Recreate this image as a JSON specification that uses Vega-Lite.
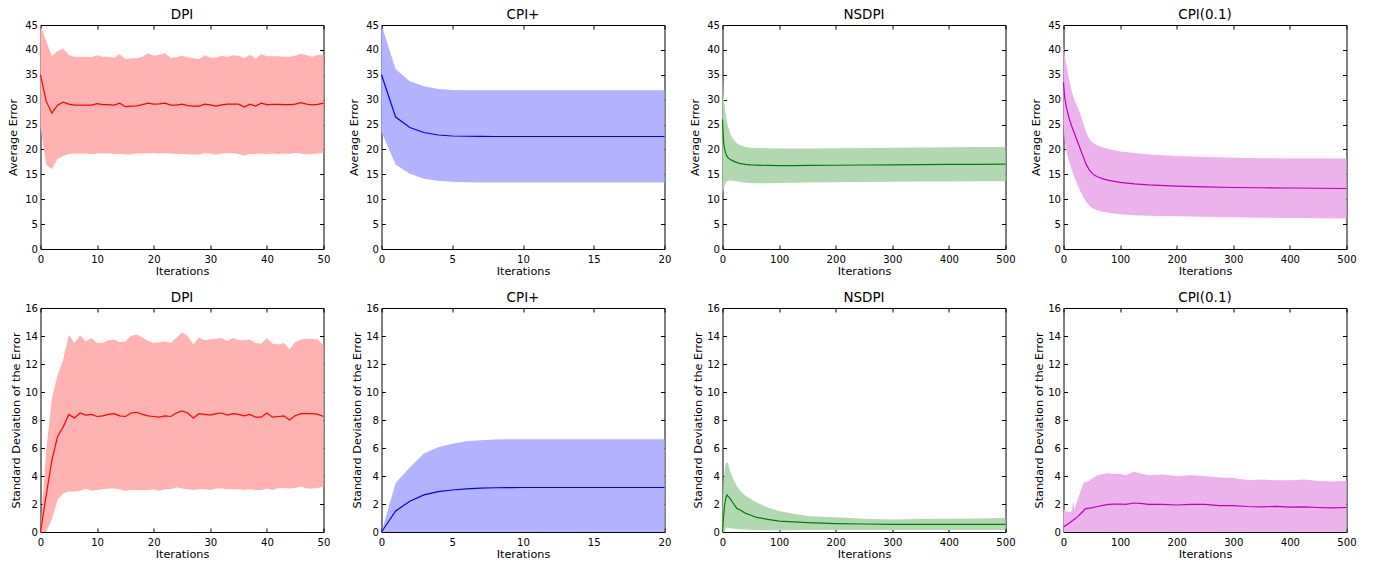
{
  "$schema": "https://vega.github.io/schema/vega-lite/v6.json",
  "padding": {"left": 6.5, "top": 7, "right": 5, "bottom": 3},
  "background": "white",
  "datasets": {
    "dpi_avg": [
      {"x":0,"m":35,"lo":24.5,"hi":45},{"x":1,"m":29.7,"lo":17,"hi":41.8},{"x":2,"m":27.3,"lo":16,"hi":38.7},{"x":3,"m":28.9,"lo":18.1,"hi":39.8},{"x":4,"m":29.5,"lo":18.7,"hi":40.3},{"x":5,"m":29.1,"lo":19.1,"hi":38.9},{"x":6,"m":28.9,"lo":19.2,"hi":38.6},{"x":7,"m":28.9,"lo":19.15,"hi":38.6},{"x":8,"m":28.9,"lo":19.2,"hi":38.55},{"x":9,"m":28.9,"lo":19.1,"hi":38.5},{"x":10,"m":29.2,"lo":19.2,"hi":38.9},{"x":11,"m":29,"lo":19.25,"hi":38.6},{"x":12,"m":29,"lo":19.2,"hi":38.6},{"x":13,"m":28.9,"lo":19.15,"hi":38.4},{"x":14,"m":29.3,"lo":19.1,"hi":39.1},{"x":15,"m":28.6,"lo":19.0,"hi":38.1},{"x":16,"m":28.7,"lo":19.05,"hi":38.3},{"x":17,"m":28.75,"lo":19.2,"hi":38.3},{"x":18,"m":29,"lo":19.25,"hi":38.6},{"x":19,"m":29.3,"lo":19.2,"hi":39.3},{"x":20,"m":29.1,"lo":19.3,"hi":38.8},{"x":21,"m":29.15,"lo":19.2,"hi":39.0},{"x":22,"m":29.3,"lo":19.25,"hi":39.3},{"x":23,"m":28.9,"lo":19.2,"hi":38.4},{"x":24,"m":28.9,"lo":19.1,"hi":38.5},{"x":25,"m":29.1,"lo":19.15,"hi":38.8},{"x":26,"m":28.8,"lo":19.05,"hi":38.5},{"x":27,"m":28.7,"lo":19.0,"hi":38.3},{"x":28,"m":28.7,"lo":19.0,"hi":38.1},{"x":29,"m":29.1,"lo":19.25,"hi":38.9},{"x":30,"m":28.95,"lo":19.2,"hi":38.4},{"x":31,"m":28.7,"lo":19.0,"hi":38.4},{"x":32,"m":28.95,"lo":19.2,"hi":38.8},{"x":33,"m":29.1,"lo":19.3,"hi":38.6},{"x":34,"m":29.1,"lo":19.25,"hi":38.9},{"x":35,"m":29.1,"lo":19.1,"hi":38.8},{"x":36,"m":28.5,"lo":18.8,"hi":38.3},{"x":37,"m":29.1,"lo":19.1,"hi":39.0},{"x":38,"m":28.7,"lo":19.1,"hi":38.2},{"x":39,"m":29.3,"lo":19.2,"hi":39.1},{"x":40,"m":29.0,"lo":19.1,"hi":38.7},{"x":41,"m":29.05,"lo":19.2,"hi":38.7},{"x":42,"m":29.05,"lo":19.1,"hi":38.7},{"x":43,"m":29.0,"lo":19.2,"hi":38.6},{"x":44,"m":29.0,"lo":19.15,"hi":38.6},{"x":45,"m":29.1,"lo":19.3,"hi":38.8},{"x":46,"m":29.4,"lo":19.2,"hi":39.2},{"x":47,"m":29.1,"lo":19.0,"hi":38.9},{"x":48,"m":28.95,"lo":19.1,"hi":38.6},{"x":49,"m":29.05,"lo":19.2,"hi":39.0},{"x":50,"m":29.3,"lo":19.3,"hi":39.0}
    ],
    "cpi_avg": [
      {"x":0,"m":35,"lo":23.5,"hi":45},{"x":1,"m":26.5,"lo":17,"hi":36.1},{"x":2,"m":24.4,"lo":15.1,"hi":33.7},{"x":3,"m":23.4,"lo":14.1,"hi":32.7},{"x":4,"m":22.9,"lo":13.7,"hi":32.15},{"x":5,"m":22.7,"lo":13.5,"hi":31.95},{"x":6,"m":22.65,"lo":13.4,"hi":31.9},{"x":7,"m":22.62,"lo":13.38,"hi":31.88},{"x":8,"m":22.6,"lo":13.36,"hi":31.87},{"x":9,"m":22.6,"lo":13.35,"hi":31.87},{"x":10,"m":22.6,"lo":13.35,"hi":31.87},{"x":11,"m":22.6,"lo":13.35,"hi":31.87},{"x":12,"m":22.6,"lo":13.35,"hi":31.87},{"x":13,"m":22.6,"lo":13.35,"hi":31.87},{"x":14,"m":22.6,"lo":13.35,"hi":31.87},{"x":15,"m":22.6,"lo":13.35,"hi":31.87},{"x":16,"m":22.6,"lo":13.35,"hi":31.87},{"x":17,"m":22.6,"lo":13.35,"hi":31.87},{"x":18,"m":22.6,"lo":13.35,"hi":31.87},{"x":19,"m":22.6,"lo":13.35,"hi":31.87},{"x":20,"m":22.6,"lo":13.35,"hi":31.87}
    ],
    "nsdpi_avg": [
      {"x":0,"m":26,"lo":11,"hi":35},{"x":1,"m":23.5,"lo":11.5,"hi":33},{"x":2,"m":21.5,"lo":12,"hi":31},{"x":3,"m":20.5,"lo":12.5,"hi":29.5},{"x":5,"m":19.5,"lo":13.0,"hi":27.5},{"x":7,"m":18.8,"lo":13.5,"hi":26},{"x":10,"m":18.3,"lo":13.7,"hi":24.5},{"x":15,"m":17.9,"lo":13.75,"hi":22.8},{"x":20,"m":17.6,"lo":13.7,"hi":21.9},{"x":25,"m":17.4,"lo":13.6,"hi":21.3},{"x":30,"m":17.2,"lo":13.5,"hi":20.9},{"x":40,"m":17.0,"lo":13.3,"hi":20.5},{"x":50,"m":16.9,"lo":13.25,"hi":20.35},{"x":60,"m":16.85,"lo":13.2,"hi":20.3},{"x":80,"m":16.8,"lo":13.2,"hi":20.25},{"x":100,"m":16.75,"lo":13.25,"hi":20.2},{"x":125,"m":16.75,"lo":13.3,"hi":20.2},{"x":150,"m":16.78,"lo":13.35,"hi":20.2},{"x":200,"m":16.82,"lo":13.4,"hi":20.25},{"x":250,"m":16.87,"lo":13.45,"hi":20.3},{"x":300,"m":16.92,"lo":13.5,"hi":20.35},{"x":350,"m":16.96,"lo":13.55,"hi":20.4},{"x":400,"m":17.0,"lo":13.55,"hi":20.45},{"x":450,"m":17.02,"lo":13.6,"hi":20.5},{"x":500,"m":17.05,"lo":13.6,"hi":20.5}
    ],
    "cpi01_avg": [
      {"x":0,"m":33.5,"lo":25,"hi":41},{"x":2,"m":30.5,"lo":22,"hi":39},{"x":5,"m":28.5,"lo":19.5,"hi":37},{"x":10,"m":26.2,"lo":17.5,"hi":34},{"x":15,"m":24.5,"lo":15.8,"hi":31.5},{"x":20,"m":23,"lo":14.2,"hi":29.7},{"x":25,"m":21.5,"lo":12.8,"hi":28.5},{"x":30,"m":20,"lo":11.5,"hi":27},{"x":35,"m":18.5,"lo":10.4,"hi":25.2},{"x":40,"m":17,"lo":9.5,"hi":23.5},{"x":45,"m":16,"lo":8.8,"hi":22.3},{"x":50,"m":15.3,"lo":8.3,"hi":21.5},{"x":55,"m":14.8,"lo":8.0,"hi":21.1},{"x":60,"m":14.5,"lo":7.8,"hi":20.8},{"x":70,"m":14.1,"lo":7.5,"hi":20.4},{"x":80,"m":13.8,"lo":7.3,"hi":20.1},{"x":100,"m":13.4,"lo":7.0,"hi":19.6},{"x":125,"m":13.1,"lo":6.8,"hi":19.3},{"x":150,"m":12.9,"lo":6.7,"hi":19.0},{"x":200,"m":12.65,"lo":6.6,"hi":18.7},{"x":250,"m":12.5,"lo":6.5,"hi":18.5},{"x":300,"m":12.35,"lo":6.4,"hi":18.35},{"x":350,"m":12.3,"lo":6.3,"hi":18.25},{"x":400,"m":12.25,"lo":6.25,"hi":18.2},{"x":450,"m":12.2,"lo":6.2,"hi":18.2},{"x":500,"m":12.15,"lo":6.15,"hi":18.2}
    ],
    "dpi_std": [
      {"x":0,"m":0,"lo":0,"hi":0},{"x":1,"m":2.6,"lo":0,"hi":5.8},{"x":2,"m":5.1,"lo":0.9,"hi":9.5},{"x":3,"m":6.8,"lo":2.3,"hi":11.2},{"x":4,"m":7.5,"lo":2.75,"hi":12.3},{"x":5,"m":8.4,"lo":2.9,"hi":14.05},{"x":6,"m":8.15,"lo":2.9,"hi":13.5},{"x":7,"m":8.5,"lo":2.95,"hi":14.05},{"x":8,"m":8.35,"lo":3.1,"hi":13.6},{"x":9,"m":8.4,"lo":2.95,"hi":13.85},{"x":10,"m":8.25,"lo":3.0,"hi":13.5},{"x":11,"m":8.3,"lo":3.05,"hi":13.5},{"x":12,"m":8.4,"lo":3.1,"hi":13.7},{"x":13,"m":8.45,"lo":3.1,"hi":13.75},{"x":14,"m":8.3,"lo":3.05,"hi":13.55},{"x":15,"m":8.25,"lo":2.95,"hi":13.6},{"x":16,"m":8.5,"lo":3.0,"hi":14.0},{"x":17,"m":8.55,"lo":3.0,"hi":14.1},{"x":18,"m":8.4,"lo":3.0,"hi":13.9},{"x":19,"m":8.3,"lo":3.0,"hi":13.65},{"x":20,"m":8.25,"lo":3.05,"hi":13.5},{"x":21,"m":8.2,"lo":2.95,"hi":13.55},{"x":22,"m":8.3,"lo":3.05,"hi":13.6},{"x":23,"m":8.25,"lo":3.05,"hi":13.5},{"x":24,"m":8.5,"lo":3.2,"hi":13.85},{"x":25,"m":8.65,"lo":3.1,"hi":14.25},{"x":26,"m":8.5,"lo":3.05,"hi":14.0},{"x":27,"m":8.15,"lo":3.0,"hi":13.4},{"x":28,"m":8.45,"lo":3.05,"hi":13.9},{"x":29,"m":8.4,"lo":3.05,"hi":13.7},{"x":30,"m":8.35,"lo":3.0,"hi":13.75},{"x":31,"m":8.45,"lo":3.1,"hi":13.8},{"x":32,"m":8.5,"lo":3.1,"hi":13.85},{"x":33,"m":8.35,"lo":3.05,"hi":13.65},{"x":34,"m":8.45,"lo":3.05,"hi":13.85},{"x":35,"m":8.4,"lo":3.05,"hi":13.7},{"x":36,"m":8.3,"lo":3.0,"hi":13.7},{"x":37,"m":8.4,"lo":3.05,"hi":13.75},{"x":38,"m":8.2,"lo":3.0,"hi":13.5},{"x":39,"m":8.2,"lo":3.0,"hi":13.45},{"x":40,"m":8.5,"lo":3.1,"hi":13.85},{"x":41,"m":8.2,"lo":3.0,"hi":13.45},{"x":42,"m":8.25,"lo":3.15,"hi":13.4},{"x":43,"m":8.3,"lo":3.15,"hi":13.5},{"x":44,"m":8.0,"lo":3.1,"hi":13.05},{"x":45,"m":8.3,"lo":3.15,"hi":13.55},{"x":46,"m":8.45,"lo":3.25,"hi":13.75},{"x":47,"m":8.45,"lo":3.1,"hi":13.8},{"x":48,"m":8.45,"lo":3.1,"hi":13.8},{"x":49,"m":8.4,"lo":3.15,"hi":13.75},{"x":50,"m":8.25,"lo":3.25,"hi":13.3}
    ],
    "cpi_std": [
      {"x":0,"m":0,"lo":0,"hi":0},{"x":1,"m":1.5,"lo":0,"hi":3.5},{"x":2,"m":2.2,"lo":0,"hi":4.6},{"x":3,"m":2.65,"lo":0,"hi":5.6},{"x":4,"m":2.88,"lo":0,"hi":6.05},{"x":5,"m":3.0,"lo":0,"hi":6.3},{"x":6,"m":3.08,"lo":0,"hi":6.48},{"x":7,"m":3.13,"lo":0,"hi":6.55},{"x":8,"m":3.16,"lo":0,"hi":6.6},{"x":9,"m":3.17,"lo":0,"hi":6.62},{"x":10,"m":3.18,"lo":0,"hi":6.63},{"x":11,"m":3.18,"lo":0,"hi":6.63},{"x":12,"m":3.18,"lo":0,"hi":6.63},{"x":13,"m":3.18,"lo":0,"hi":6.63},{"x":14,"m":3.18,"lo":0,"hi":6.63},{"x":15,"m":3.18,"lo":0,"hi":6.63},{"x":16,"m":3.18,"lo":0,"hi":6.63},{"x":17,"m":3.18,"lo":0,"hi":6.63},{"x":18,"m":3.18,"lo":0,"hi":6.63},{"x":19,"m":3.18,"lo":0,"hi":6.63},{"x":20,"m":3.18,"lo":0,"hi":6.63}
    ],
    "nsdpi_std": [
      {"x":0,"m":0,"lo":0,"hi":0.3},{"x":1,"m":0.6,"lo":0,"hi":2.5},{"x":2,"m":1.2,"lo":0,"hi":3.5},{"x":4,"m":2.0,"lo":0,"hi":4.5},{"x":6,"m":2.45,"lo":0.3,"hi":4.95},{"x":8,"m":2.65,"lo":0.32,"hi":4.97},{"x":10,"m":2.55,"lo":0.3,"hi":4.9},{"x":12,"m":2.45,"lo":0.28,"hi":4.5},{"x":15,"m":2.3,"lo":0.25,"hi":4.2},{"x":20,"m":2.0,"lo":0.25,"hi":3.7},{"x":25,"m":1.7,"lo":0.22,"hi":3.3},{"x":30,"m":1.6,"lo":0.2,"hi":3.0},{"x":40,"m":1.35,"lo":0.18,"hi":2.6},{"x":50,"m":1.2,"lo":0.15,"hi":2.35},{"x":60,"m":1.05,"lo":0.13,"hi":2.1},{"x":80,"m":0.9,"lo":0.12,"hi":1.75},{"x":100,"m":0.78,"lo":0.1,"hi":1.5},{"x":125,"m":0.72,"lo":0.12,"hi":1.3},{"x":150,"m":0.67,"lo":0.14,"hi":1.15},{"x":200,"m":0.6,"lo":0.15,"hi":1.05},{"x":250,"m":0.57,"lo":0.15,"hi":0.95},{"x":300,"m":0.55,"lo":0.15,"hi":0.9},{"x":350,"m":0.55,"lo":0.15,"hi":0.92},{"x":400,"m":0.55,"lo":0.15,"hi":0.95},{"x":450,"m":0.55,"lo":0.15,"hi":0.97},{"x":500,"m":0.55,"lo":0.15,"hi":1.0}
    ],
    "cpi01_std": [
      {"x":0,"m":0.35,"lo":0,"hi":1.6},{"x":5,"m":0.5,"lo":0,"hi":1.5},{"x":10,"m":0.62,"lo":0,"hi":1.4},{"x":15,"m":0.78,"lo":0,"hi":1.5},{"x":17,"m":0.85,"lo":0,"hi":2.25},{"x":19,"m":0.9,"lo":0,"hi":1.6},{"x":25,"m":1.1,"lo":0,"hi":2.3},{"x":30,"m":1.3,"lo":0,"hi":2.9},{"x":35,"m":1.5,"lo":0,"hi":3.5},{"x":38,"m":1.65,"lo":0,"hi":3.55},{"x":45,"m":1.7,"lo":0,"hi":3.65},{"x":50,"m":1.72,"lo":0,"hi":3.8},{"x":60,"m":1.82,"lo":0,"hi":4.05},{"x":70,"m":1.9,"lo":0,"hi":4.15},{"x":80,"m":1.97,"lo":0,"hi":4.2},{"x":90,"m":1.99,"lo":0,"hi":4.15},{"x":100,"m":2.0,"lo":0,"hi":4.15},{"x":110,"m":1.97,"lo":0,"hi":4.05},{"x":125,"m":2.07,"lo":0,"hi":4.3},{"x":140,"m":2.02,"lo":0,"hi":4.15},{"x":150,"m":1.98,"lo":0,"hi":4.05},{"x":175,"m":1.97,"lo":0,"hi":4.1},{"x":200,"m":1.93,"lo":0,"hi":4.0},{"x":225,"m":1.98,"lo":0,"hi":4.05},{"x":250,"m":1.97,"lo":0,"hi":4.0},{"x":275,"m":1.88,"lo":0,"hi":3.9},{"x":300,"m":1.88,"lo":0,"hi":3.85},{"x":325,"m":1.82,"lo":0,"hi":3.7},{"x":350,"m":1.8,"lo":0,"hi":3.75},{"x":375,"m":1.83,"lo":0,"hi":3.7},{"x":400,"m":1.78,"lo":0,"hi":3.7},{"x":425,"m":1.8,"lo":0,"hi":3.75},{"x":450,"m":1.75,"lo":0,"hi":3.65},{"x":475,"m":1.72,"lo":0,"hi":3.6},{"x":500,"m":1.75,"lo":0,"hi":3.65}
    ]
  },
  "columns": 4,
  "bounds": "flush",
  "spacing": {"row": 59, "column": 58},
  "concat": [
    {"title": "DPI", "width": 283, "height": 224, "data": {"name": "dpi_avg"},
     "layer": [
      {"mark": {"type": "area", "color": "#FFB2B2", "opacity": 1}, "encoding": {
        "x": {"field": "x", "type": "quantitative", "scale": {"domain": [0, 50], "nice": false}, "axis": {"values": [0,10,20,30,40,50], "title": "Iterations"}},
        "y": {"field": "lo", "type": "quantitative", "scale": {"domain": [0, 45], "nice": false}, "axis": {"values": [0,5,10,15,20,25,30,35,40,45], "title": "Average Error", "titlePadding": 6}},
        "y2": {"field": "hi"}}},
      {"mark": {"type": "line", "color": "#FF0000", "strokeWidth": 1.2}, "encoding": {
        "x": {"field": "x", "type": "quantitative", "axis": {"orient": "top", "labels": false, "title": null, "values": [0,10,20,30,40,50]}},
        "y": {"field": "m", "type": "quantitative", "axis": {"orient": "right", "labels": false, "title": null, "values": [0,5,10,15,20,25,30,35,40,45]}}}}
     ],
     "resolve": {"axis": {"x": "independent", "y": "independent"}}},
    {"title": "CPI+", "width": 283, "height": 224, "data": {"name": "cpi_avg"},
     "layer": [
      {"mark": {"type": "area", "color": "#B2B2FF", "opacity": 1}, "encoding": {
        "x": {"field": "x", "type": "quantitative", "scale": {"domain": [0, 20], "nice": false}, "axis": {"values": [0,5,10,15,20], "title": "Iterations"}},
        "y": {"field": "lo", "type": "quantitative", "scale": {"domain": [0, 45], "nice": false}, "axis": {"values": [0,5,10,15,20,25,30,35,40,45], "title": "Average Error", "titlePadding": 6}},
        "y2": {"field": "hi"}}},
      {"mark": {"type": "line", "color": "#0000FF", "strokeWidth": 1.2}, "encoding": {
        "x": {"field": "x", "type": "quantitative", "axis": {"orient": "top", "labels": false, "title": null, "values": [0,5,10,15,20]}},
        "y": {"field": "m", "type": "quantitative", "axis": {"orient": "right", "labels": false, "title": null, "values": [0,5,10,15,20,25,30,35,40,45]}}}}
     ],
     "resolve": {"axis": {"x": "independent", "y": "independent"}}},
    {"title": "NSDPI", "width": 283, "height": 224, "data": {"name": "nsdpi_avg"},
     "layer": [
      {"mark": {"type": "area", "color": "#B2D8B2", "opacity": 1}, "encoding": {
        "x": {"field": "x", "type": "quantitative", "scale": {"domain": [0, 500], "nice": false}, "axis": {"values": [0,100,200,300,400,500], "title": "Iterations"}},
        "y": {"field": "lo", "type": "quantitative", "scale": {"domain": [0, 45], "nice": false}, "axis": {"values": [0,5,10,15,20,25,30,35,40,45], "title": "Average Error", "titlePadding": 6}},
        "y2": {"field": "hi"}}},
      {"mark": {"type": "line", "color": "#008000", "strokeWidth": 1.2}, "encoding": {
        "x": {"field": "x", "type": "quantitative", "axis": {"orient": "top", "labels": false, "title": null, "values": [0,100,200,300,400,500]}},
        "y": {"field": "m", "type": "quantitative", "axis": {"orient": "right", "labels": false, "title": null, "values": [0,5,10,15,20,25,30,35,40,45]}}}}
     ],
     "resolve": {"axis": {"x": "independent", "y": "independent"}}},
    {"title": "CPI(0.1)", "width": 283, "height": 224, "data": {"name": "cpi01_avg"},
     "layer": [
      {"mark": {"type": "area", "color": "#EBB2EB", "opacity": 1}, "encoding": {
        "x": {"field": "x", "type": "quantitative", "scale": {"domain": [0, 500], "nice": false}, "axis": {"values": [0,100,200,300,400,500], "title": "Iterations"}},
        "y": {"field": "lo", "type": "quantitative", "scale": {"domain": [0, 45], "nice": false}, "axis": {"values": [0,5,10,15,20,25,30,35,40,45], "title": "Average Error", "titlePadding": 6}},
        "y2": {"field": "hi"}}},
      {"mark": {"type": "line", "color": "#BF00BF", "strokeWidth": 1.2}, "encoding": {
        "x": {"field": "x", "type": "quantitative", "axis": {"orient": "top", "labels": false, "title": null, "values": [0,100,200,300,400,500]}},
        "y": {"field": "m", "type": "quantitative", "axis": {"orient": "right", "labels": false, "title": null, "values": [0,5,10,15,20,25,30,35,40,45]}}}}
     ],
     "resolve": {"axis": {"x": "independent", "y": "independent"}}},
    {"title": "DPI", "width": 283, "height": 224, "data": {"name": "dpi_std"},
     "layer": [
      {"mark": {"type": "area", "color": "#FFB2B2", "opacity": 1}, "encoding": {
        "x": {"field": "x", "type": "quantitative", "scale": {"domain": [0, 50], "nice": false}, "axis": {"values": [0,10,20,30,40,50], "title": "Iterations"}},
        "y": {"field": "lo", "type": "quantitative", "scale": {"domain": [0, 16], "nice": false}, "axis": {"values": [0,2,4,6,8,10,12,14,16], "title": "Standard Deviation of the Error", "titlePadding": 3}},
        "y2": {"field": "hi"}}},
      {"mark": {"type": "line", "color": "#FF0000", "strokeWidth": 1.2}, "encoding": {
        "x": {"field": "x", "type": "quantitative", "axis": {"orient": "top", "labels": false, "title": null, "values": [0,10,20,30,40,50]}},
        "y": {"field": "m", "type": "quantitative", "axis": {"orient": "right", "labels": false, "title": null, "values": [0,2,4,6,8,10,12,14,16]}}}}
     ],
     "resolve": {"axis": {"x": "independent", "y": "independent"}}},
    {"title": "CPI+", "width": 283, "height": 224, "data": {"name": "cpi_std"},
     "layer": [
      {"mark": {"type": "area", "color": "#B2B2FF", "opacity": 1}, "encoding": {
        "x": {"field": "x", "type": "quantitative", "scale": {"domain": [0, 20], "nice": false}, "axis": {"values": [0,5,10,15,20], "title": "Iterations"}},
        "y": {"field": "lo", "type": "quantitative", "scale": {"domain": [0, 16], "nice": false}, "axis": {"values": [0,2,4,6,8,10,12,14,16], "title": "Standard Deviation of the Error", "titlePadding": 3}},
        "y2": {"field": "hi"}}},
      {"mark": {"type": "line", "color": "#0000FF", "strokeWidth": 1.2}, "encoding": {
        "x": {"field": "x", "type": "quantitative", "axis": {"orient": "top", "labels": false, "title": null, "values": [0,5,10,15,20]}},
        "y": {"field": "m", "type": "quantitative", "axis": {"orient": "right", "labels": false, "title": null, "values": [0,2,4,6,8,10,12,14,16]}}}}
     ],
     "resolve": {"axis": {"x": "independent", "y": "independent"}}},
    {"title": "NSDPI", "width": 283, "height": 224, "data": {"name": "nsdpi_std"},
     "layer": [
      {"mark": {"type": "area", "color": "#B2D8B2", "opacity": 1}, "encoding": {
        "x": {"field": "x", "type": "quantitative", "scale": {"domain": [0, 500], "nice": false}, "axis": {"values": [0,100,200,300,400,500], "title": "Iterations"}},
        "y": {"field": "lo", "type": "quantitative", "scale": {"domain": [0, 16], "nice": false}, "axis": {"values": [0,2,4,6,8,10,12,14,16], "title": "Standard Deviation of the Error", "titlePadding": 3}},
        "y2": {"field": "hi"}}},
      {"mark": {"type": "line", "color": "#008000", "strokeWidth": 1.2}, "encoding": {
        "x": {"field": "x", "type": "quantitative", "axis": {"orient": "top", "labels": false, "title": null, "values": [0,100,200,300,400,500]}},
        "y": {"field": "m", "type": "quantitative", "axis": {"orient": "right", "labels": false, "title": null, "values": [0,2,4,6,8,10,12,14,16]}}}}
     ],
     "resolve": {"axis": {"x": "independent", "y": "independent"}}},
    {"title": "CPI(0.1)", "width": 283, "height": 224, "data": {"name": "cpi01_std"},
     "layer": [
      {"mark": {"type": "area", "color": "#EBB2EB", "opacity": 1}, "encoding": {
        "x": {"field": "x", "type": "quantitative", "scale": {"domain": [0, 500], "nice": false}, "axis": {"values": [0,100,200,300,400,500], "title": "Iterations"}},
        "y": {"field": "lo", "type": "quantitative", "scale": {"domain": [0, 16], "nice": false}, "axis": {"values": [0,2,4,6,8,10,12,14,16], "title": "Standard Deviation of the Error", "titlePadding": 3}},
        "y2": {"field": "hi"}}},
      {"mark": {"type": "line", "color": "#BF00BF", "strokeWidth": 1.2}, "encoding": {
        "x": {"field": "x", "type": "quantitative", "axis": {"orient": "top", "labels": false, "title": null, "values": [0,100,200,300,400,500]}},
        "y": {"field": "m", "type": "quantitative", "axis": {"orient": "right", "labels": false, "title": null, "values": [0,2,4,6,8,10,12,14,16]}}}}
     ],
     "resolve": {"axis": {"x": "independent", "y": "independent"}}}
  ],
  "config": {
    "font": "DejaVu Sans",
    "view": {"stroke": "black", "strokeWidth": 1},
    "axis": {"grid": false, "domain": false, "tickColor": "black", "tickWidth": 1, "tickSize": -4, "labelColor": "black", "labelFont": "DejaVu Sans", "labelFontSize": 10.1, "labelFlush": false, "labelOverlap": false, "titleFont": "DejaVu Sans", "titleFontSize": 11.25, "titleFontWeight": "normal", "titleColor": "black"},
    "axisX": {"labelPadding": 9, "titlePadding": 1},
    "axisY": {"labelPadding": 7},
    "title": {"font": "DejaVu Sans", "fontSize": 13.5, "fontWeight": "normal", "color": "black", "offset": -1, "frame": "group"}
  }
}
